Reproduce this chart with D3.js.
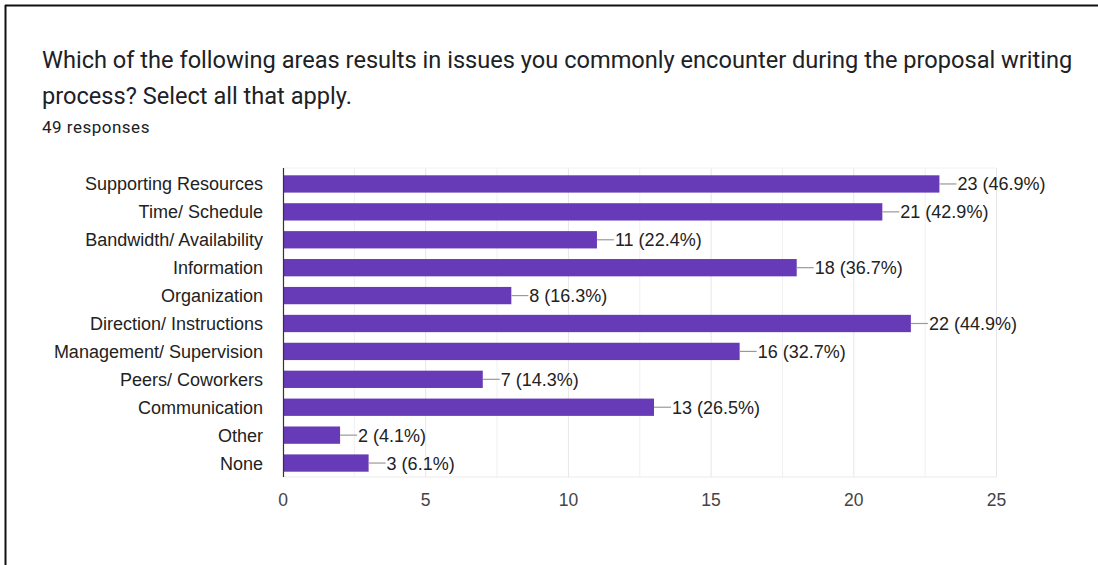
<!DOCTYPE html>
<html><head><meta charset="utf-8">
<script src="https://cdn.jsdelivr.net/npm/d3@7"></script>
<style>body{margin:0;background:#fff;}svg{display:block;}</style>
</head><body>
<svg id="c" width="1098" height="565"></svg>
<script>
const categories = ["Supporting Resources","Time/ Schedule","Bandwidth/ Availability","Information","Organization","Direction/ Instructions","Management/ Supervision","Peers/ Coworkers","Communication","Other","None"];
const counts = [23,21,11,18,8,22,16,7,13,2,3];
const percents = ["46.9%","42.9%","22.4%","36.7%","16.3%","44.9%","32.7%","14.3%","26.5%","4.1%","6.1%"];
const tickValues = [0,5,10,15,20,25];
const minorTicks = [2.5,7.5,12.5,17.5,22.5];
const titleLines = ["Which of the following areas results in issues you commonly encounter during the proposal writing","process? Select all that apply."];
const subtitle = "49 responses";

const svg = d3.select("#c");
// frame
svg.append("line").attr("x1",5).attr("x2",1098).attr("y1",5.5).attr("y2",5.5).attr("stroke","#111").attr("stroke-width",2);
svg.append("line").attr("x1",5.5).attr("x2",5.5).attr("y1",5).attr("y2",565).attr("stroke","#111").attr("stroke-width",2);

svg.selectAll("text.title").data(titleLines).join("text").attr("class","title")
  .attr("x",42).attr("y",(d,i)=>68+i*36)
  .attr("font-family","Roboto").attr("font-size",23.6).attr("fill","#202124").text(d=>d);
svg.append("text").attr("x",42).attr("y",133).attr("font-family","Roboto").attr("font-size",17).attr("letter-spacing",0.5).attr("fill","#202124").text(subtitle);

const x = d3.scaleLinear().domain([0,25]).range([283,996.5]);
const y = d3.scaleBand().domain(categories).range([170,477]).paddingInner(0.38).paddingOuter(0.19);

const fs = 18;
// gridlines
svg.append("g").selectAll("line").data(tickValues.concat(minorTicks).filter(d=>d>0)).join("line")
  .attr("x1",d=>x(d)).attr("x2",d=>x(d)).attr("y1",168).attr("y2",477)
  .attr("stroke",d=>tickValues.includes(d)?"#e6e6e6":"#f0f0f0").attr("stroke-width",1);
svg.append("line").attr("x1",283).attr("x2",996.5).attr("y1",477).attr("y2",477).attr("stroke","#ebebeb");
svg.append("line").attr("x1",283).attr("x2",996.5).attr("y1",168).attr("y2",168).attr("stroke","#f2f2f2");

// bars
svg.append("g").selectAll("rect").data(categories).join("rect")
  .attr("x",x(0)).attr("y",d=>y(d)).attr("width",(d,i)=>x(counts[i])-x(0)).attr("height",y.bandwidth())
  .attr("fill","#673ab7");

// axis line
svg.append("line").attr("x1",283.5).attr("x2",283.5).attr("y1",168).attr("y2",477).attr("stroke","#333").attr("stroke-width",1.2);

// category labels
svg.append("g").selectAll("text").data(categories).join("text")
  .attr("x",263).attr("y",d=>y(d)+y.bandwidth()/2).attr("dy","0.36em")
  .attr("text-anchor","end").attr("font-family","Liberation Sans, Arial").attr("font-size",fs).attr("fill","#222").text(d=>d);

// value connectors and labels
const lab = svg.append("g");
categories.forEach((c,i)=>{
  const xe = x(counts[i]), yc = y(c)+y.bandwidth()/2;
  lab.append("line").attr("x1",xe).attr("x2",xe+17).attr("y1",yc).attr("y2",yc).attr("stroke","#999").attr("stroke-width",1.2);
  lab.append("text").attr("x",xe+18).attr("y",yc).attr("dy","0.36em")
    .attr("font-family","Liberation Sans, Arial").attr("font-size",fs).attr("fill","#222")
    .text(counts[i]+" ("+percents[i]+")");
});

// x axis tick labels
svg.append("g").selectAll("text").data(tickValues).join("text")
  .attr("x",d=>x(d)).attr("y",506).attr("text-anchor","middle")
  .attr("font-family","Liberation Sans, Arial").attr("font-size",17.5).attr("fill","#444").text(d=>d);
</script>
</body></html>
